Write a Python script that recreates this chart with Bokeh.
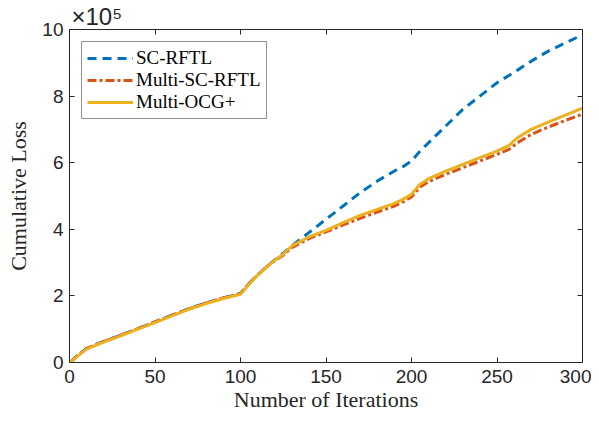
from bokeh.plotting import figure
from bokeh.models import LinearAxis, Range1d, Title, Legend, LegendItem, FixedTicker
from bokeh.embed import file_html
from bokeh.resources import INLINE

# data (cumulative loss in units of 1e5)
iters = [1, 5, 10, 15, 20, 30, 40, 50, 60, 70, 80, 90, 100, 105, 110, 115, 120, 125,
         130, 140, 150, 160, 170, 180, 190, 195, 200, 205, 210, 220, 230, 240, 250,
         257, 262, 270, 280, 290, 300]
sc_rftl = [0.03, 0.22, 0.42, 0.53, 0.63, 0.82, 1.02, 1.22, 1.42, 1.62, 1.79, 1.94, 2.07,
           2.37, 2.63, 2.86, 3.08, 3.28,
           3.5, 3.9, 4.3, 4.7, 5.1, 5.45, 5.75, 5.88, 6.05, 6.35, 6.6, 7.1, 7.6, 8.0, 8.4,
           8.62, 8.78, 9.05, 9.35, 9.6, 9.84]
multi_sc_rftl = [0.03, 0.22, 0.42, 0.53, 0.63, 0.82, 1.02, 1.22, 1.42, 1.62, 1.79, 1.94, 2.07,
                 2.37, 2.63, 2.86, 3.06, 3.22,
                 3.45, 3.72, 3.92, 4.13, 4.33, 4.52, 4.7, 4.82, 4.97, 5.27, 5.43, 5.65, 5.85,
                 6.05, 6.25, 6.4, 6.6, 6.85, 7.07, 7.27, 7.46]
multi_ocg = [0.02, 0.2, 0.4, 0.51, 0.61, 0.8, 1.0, 1.2, 1.4, 1.6, 1.77, 1.92, 2.05,
             2.35, 2.62, 2.85, 3.07, 3.25,
             3.5, 3.77, 3.97, 4.2, 4.42, 4.6, 4.78, 4.9, 5.05, 5.35, 5.52, 5.75, 5.95,
             6.15, 6.35, 6.52, 6.75, 7.0, 7.22, 7.43, 7.64]
names = ["SC-RFTL", "Multi-SC-RFTL", "Multi-OCG+"]
x_ticks = [0, 50, 100, 150, 200, 250, 300]
y_ticks = [0, 2, 4, 6, 8, 10]
y_exponent = "\u00d710\u2075"

AX = "#262626"
SERIF = "Liberation Serif"
SANS = "Liberation Sans"

p = figure(width=591, height=420, output_backend="svg", toolbar_location=None,
           x_range=Range1d(0, 300), y_range=Range1d(0, 10),
           min_border_left=69, min_border_right=9, min_border_top=28, min_border_bottom=58,
           x_axis_location=None, y_axis_location=None)
p.grid.visible = False
p.outline_line_color = AX
p.outline_line_width = 1
p.background_fill_color = "white"
p.border_fill_color = "white"

def style_axis(ax, ticks, labels=True):
    ax.ticker = FixedTicker(ticks=ticks)
    ax.major_tick_in = 5
    ax.major_tick_out = 0
    ax.minor_tick_line_color = None
    ax.axis_line_color = AX
    ax.major_tick_line_color = AX
    ax.major_label_text_color = AX
    ax.major_label_text_font = SANS
    ax.major_label_text_font_size = "19px"
    if not labels:
        ax.major_label_text_font_size = "0px"
        ax.major_label_text_alpha = 0
        ax.major_label_standoff = 0

xb = LinearAxis(axis_label="Number of Iterations")
style_axis(xb, x_ticks)
xb.major_label_standoff = 7
xb.axis_label_text_font = SERIF
xb.axis_label_text_font_style = "normal"
xb.axis_label_text_font_size = "22px"
xb.axis_label_text_color = AX
xb.axis_label_standoff = 1
p.add_layout(xb, "below")

xt = LinearAxis()
style_axis(xt, x_ticks, labels=False)
p.add_layout(xt, "above")

yl = LinearAxis(axis_label="Cumulative Loss")
style_axis(yl, y_ticks)
yl.major_label_standoff = 6
yl.axis_label_text_font = SERIF
yl.axis_label_text_font_style = "normal"
yl.axis_label_text_font_size = "22px"
yl.axis_label_text_color = AX
yl.axis_label_standoff = 8
p.add_layout(yl, "left")

yr = LinearAxis()
style_axis(yr, y_ticks, labels=False)
p.add_layout(yr, "right")

exp_title = Title(text=y_exponent, align="left", offset=2, standoff=0,
                  text_font=SANS, text_font_style="normal", text_color=AX)
exp_title.text_font_size = "24px"
p.add_layout(exp_title, "above")

r1 = p.line(iters, sc_rftl, line_color="#0072BD", line_width=3, line_dash="9 6")
r2 = p.line(iters, multi_sc_rftl, line_color="#D95319", line_width=3, line_dash="9 3 3 3")
r3 = p.line(iters, multi_ocg, line_color="#EDB120", line_width=3)

legend = Legend(items=[LegendItem(label=names[0], renderers=[r1]),
                       LegendItem(label=names[1], renderers=[r2]),
                       LegendItem(label=names[2], renderers=[r3])],
                location="top_left")
legend.label_text_font = SERIF
legend.label_text_font_size = "19px"
legend.label_text_color = "black"
legend.border_line_color = AX
legend.border_line_width = 1
legend.glyph_width = 46
legend.glyph_height = 18
legend.label_standoff = 3
legend.spacing = 0
legend.padding = 5
legend.margin = 12
legend.label_height = 18
p.add_layout(legend)

open("out.html", "w").write(file_html(p, INLINE))
